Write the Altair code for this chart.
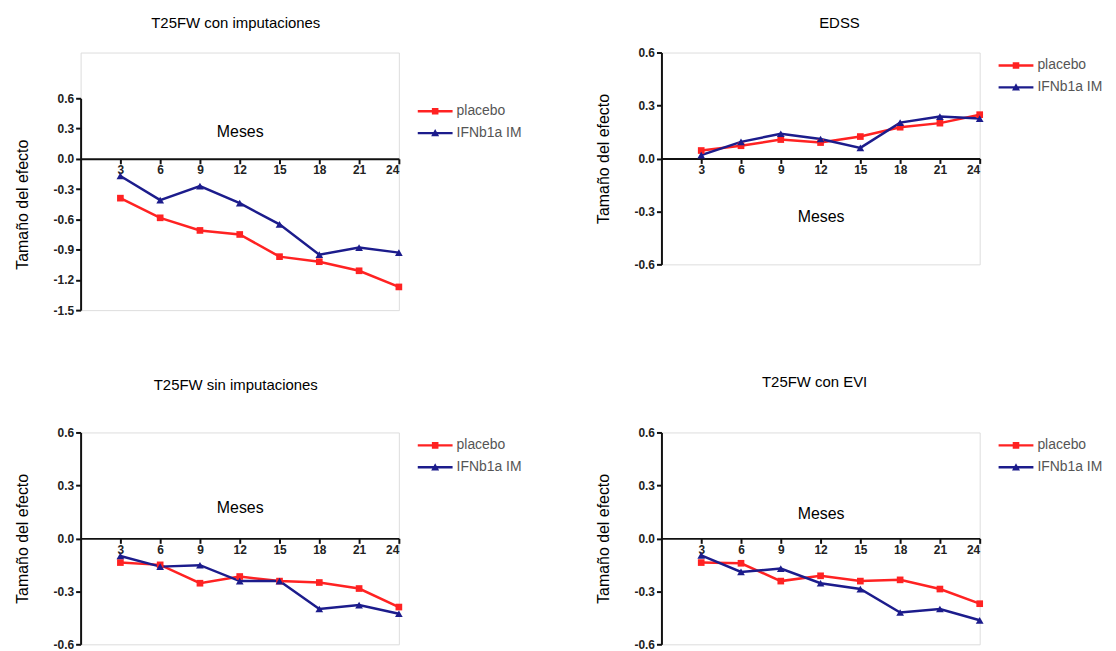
import altair as alt
import pandas as pd

months = [3, 6, 9, 12, 15, 18, 21, 24]
series = ["placebo", "IFNb1a IM"]
colors = ["#ff2222", "#1c1c8c"]

p1_placebo = [-0.39, -0.585, -0.71, -0.75, -0.97, -1.02, -1.11, -1.27]
p1_ifn = [-0.17, -0.41, -0.27, -0.44, -0.65, -0.95, -0.88, -0.93]
p2_placebo = [0.045, 0.072, 0.107, 0.09, 0.124, 0.177, 0.2, 0.248]
p2_ifn = [0.019, 0.094, 0.14, 0.11, 0.06, 0.203, 0.237, 0.226]
p3_placebo = [-0.137, -0.15, -0.254, -0.216, -0.242, -0.25, -0.284, -0.389]
p3_ifn = [-0.1, -0.16, -0.152, -0.242, -0.242, -0.4, -0.378, -0.427]
p4_placebo = [-0.137, -0.141, -0.242, -0.212, -0.242, -0.235, -0.287, -0.37]
p4_ifn = [-0.096, -0.19, -0.171, -0.254, -0.287, -0.42, -0.4, -0.464]

ticks_big = [-1.5, -1.2, -0.9, -0.6, -0.3, 0.0, 0.3, 0.6]
ticks_small = [-0.6, -0.3, 0.0, 0.3, 0.6]
y_top = 0.6

legend_paths = [
    "M-1.75,-0.12H1.75V0.12H-1.75Z M-0.33,-0.33H0.33V0.33H-0.33Z",
    "M-1.75,-0.12H1.75V0.12H-1.75Z M-0.4,0.32L0,-0.4L0.4,0.32Z",
]

W, H = 320, 213


def panel(title, placebo, ifn, ymin, yticks, title_offset, title_dx, meses_y,
          extra_top=0):
    df = pd.DataFrame({
        "mes": months + months,
        "valor": placebo + ifn,
        "serie": [series[0]] * len(months) + [series[1]] * len(months),
    })
    ppu = H / (y_top - ymin)
    axis_off = -ppu * (0 - ymin)
    x = alt.X("mes:Q", scale=alt.Scale(domain=[0, 24], nice=False, zero=False),
              axis=alt.Axis(values=months, title="Meses", offset=axis_off,
                            titleY=meses_y, titleBaseline="middle",
                            titleFontSize=16, titleFontWeight="normal",
                            labelFontWeight="bold", labelFontSize=12,
                            grid=False, domainColor="#111", domainWidth=2,
                            tickColor="#111", tickWidth=2, tickSize=5,
                            labelColor="#222", labelPadding=1, labelOverlap=False))
    y = alt.Y("valor:Q",
              scale=alt.Scale(domain=[ymin, y_top], range=[H + extra_top, extra_top],
                              nice=False, zero=False),
              axis=alt.Axis(values=yticks, title="Tamaño del efecto",
                            labelExpr="replace(format(datum.value, '.1f'), '\u2212', '-')",
                            titleFontSize=16, titleFontWeight="normal",
                            titleY=extra_top + H / 2,
                            labelFontWeight="bold", labelFontSize=12,
                            grid=False, domainColor="#111", domainWidth=2,
                            labelOverlap=False,
                            tickColor="#111", tickWidth=2, tickSize=5,
                            labelColor="#222", labelPadding=2, titlePadding=23))
    base = alt.Chart(df)
    styles = [(series[0], colors[0], "square", 45),
              (series[1], colors[1], "triangle-up", 60)]
    layers = []
    for s, c, shp, sz in styles:
        sub = base.transform_filter(alt.datum.serie == s)
        layers.append(sub.mark_line(strokeWidth=2.5, color=c).encode(x=x, y=y))
    for s, c, shp, sz in styles:
        sub = base.transform_filter(alt.datum.serie == s)
        layers.append(sub.mark_point(shape=shp, filled=True, size=sz, color=c,
                                     opacity=1).encode(x=x, y=y))
    leg = dict(title=None, orient="none", legendX=W + 26.5, legendY=extra_top + 3,
               symbolSize=400, symbolStrokeWidth=0,
               labelFontSize=14, labelColor="#555", labelOffset=11.5,
               rowPadding=5, padding=0)
    legend_layer = base.transform_filter("false").mark_point(
        filled=True, size=400, opacity=1
    ).encode(
        x=x, y=y,
        shape=alt.Shape("serie:N", scale=alt.Scale(domain=series, range=legend_paths),
                        legend=alt.Legend(**leg)),
        fill=alt.Fill("serie:N", scale=alt.Scale(domain=series, range=colors),
                      legend=alt.Legend(**leg)),
    )
    layers.append(legend_layer)
    return alt.layer(*layers).properties(
        width=W, height=H + extra_top,
        title=alt.TitleParams(title, fontSize=15, fontWeight="normal", frame="group",
                              anchor="middle", offset=title_offset, dx=title_dx),
    )


p1 = panel("T25FW con imputaciones", p1_placebo, p1_ifn, -1.5, ticks_big, 22, -4, -27,
           extra_top=46)
p2 = panel("EDSS", p2_placebo, p2_ifn, -0.6, ticks_small, 16, 19, 58)
p3 = panel("T25FW sin imputaciones", p3_placebo, p3_ifn, -0.6, ticks_small, 34, -4, -31)
p4 = panel("T25FW con EVI", p4_placebo, p4_ifn, -0.6, ticks_small, 37, -6, -25)

ind = dict(fill="independent", shape="independent")

col1 = alt.vconcat(p1, p3, spacing=60).resolve_scale(**ind)
col2 = alt.vconcat(p2, p4, spacing=103).resolve_scale(**ind)

chart = alt.hconcat(col1, col2, spacing=72).resolve_scale(**ind).configure_view(
    stroke=None
).configure_axis(labelOverlap=False).configure(
    font="Liberation Sans", background="white"
)

chart.save("out.html", embed_options={"renderer": "svg", "actions": False})
